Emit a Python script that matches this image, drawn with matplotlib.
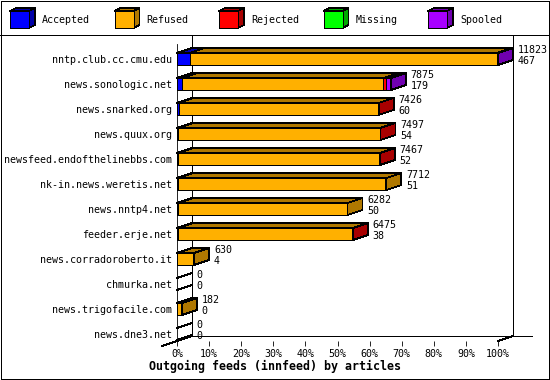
import matplotlib
matplotlib.use("Agg")
import matplotlib.pyplot as plt
from matplotlib.patches import Polygon, Rectangle
from matplotlib.lines import Line2D

# feeds and article counts per outcome
feeds = ["nntp.club.cc.cmu.edu", "news.sonologic.net", "news.snarked.org",
         "news.quux.org", "newsfeed.endofthelinebbs.com", "nk-in.news.weretis.net",
         "news.nntp4.net", "feeder.erje.net", "news.corradoroberto.it",
         "chmurka.net", "news.trigofacile.com", "news.dne3.net"]
accepted = [467, 179, 60, 54, 52, 51, 50, 38, 4, 0, 0, 0]
refused = [11316, 7426, 7356, 7433, 7405, 7661, 6232, 6427, 626, 0, 182, 0]
rejected = [0, 100, 10, 10, 10, 0, 0, 10, 0, 0, 0, 0]
missing = [0, 0, 0, 0, 0, 0, 0, 0, 0, 0, 0, 0]
spooled = [40, 170, 0, 0, 0, 0, 0, 0, 0, 0, 0, 0]

names = ["Accepted", "Refused", "Rejected", "Missing", "Spooled"]
light = ["#0000ff", "#ffb000", "#ff0000", "#00ff00", "#a800ff"]
dark = ["#0000a8", "#b07800", "#a80000", "#00a800", "#7000b0"]
ticks = list(range(0, 101, 10))
title = "Outgoing feeds (innfeed) by articles"

plt.rcParams['font.family'] = ['DejaVu Sans Mono']
LW = 0.6
FS = 7.2

fig = plt.figure(figsize=(5.5, 3.8), dpi=100)

# frame, legend strip and title drawn in pixel space
lax = fig.add_axes([0, 0, 1, 1])
lax.set_xlim(0, 550)
lax.set_ylim(380, 0)
lax.axis("off")
lax.add_patch(Rectangle((0.5, 0.5), 548.5, 378.5, fill=False, lw=LW, ec="black", antialiased=False))
lax.add_line(Line2D([0, 550], [35, 35], color="black", lw=LW, antialiased=False))
for k, name in enumerate(names):
    x0 = 10 + 104.5 * k
    lax.add_patch(Polygon([(x0, 11), (x0 + 6, 8), (x0 + 25, 8), (x0 + 19, 11)],
                          fc=dark[k], ec="black", lw=LW, antialiased=False))
    lax.add_patch(Polygon([(x0 + 19, 11), (x0 + 25, 8), (x0 + 25, 25), (x0 + 19, 28)],
                          fc=dark[k], ec="black", lw=LW, antialiased=False))
    lax.add_patch(Rectangle((x0, 11), 19, 17, fc=light[k], ec="black", lw=LW, antialiased=False))
    lax.text(x0 + 32, 20, name, va="center", ha="left", fontsize=FS)
lax.text(275, 366.5, title, ha="center", va="center", fontsize=8.4, fontweight="bold")

# main chart
ax = fig.add_axes([177 / 550, (380 - 341) / 380, 321 / 550, 297 / 380])
ax.set_facecolor("none")
ax.set_xlim(0, 100)
ax.set_ylim(11.28, -0.6)
DX = 15 / 3.21   # depth in percent units
DY = 0.2         # depth in category units
H = 0.24

segs = [accepted, refused, rejected, missing, spooled]
totals = [sum(s[i] for s in segs) for i in range(len(feeds))]
top = max(totals)

# back wall
wall = dict(color="black", lw=LW, clip_on=False, antialiased=False, zorder=1)
ax.plot([DX, DX], [11.28 - DY, -0.96], **wall)
ax.plot([100 + DX, 100 + DX], [11.28 - DY, -0.96], **wall)
ax.plot([DX, 100 + DX + 5.9], [11.28 - DY, 11.28 - DY], **wall)
ax.plot([-DX, DX], [11.28 + DY, 11.28 - DY], **wall)
ax.plot([100, 100 + DX], [11.28, 11.28 - DY], **wall)

for i in range(len(feeds)):
    left = 0.0
    last = None
    for k in range(5):
        v = segs[k][i] / top * 100
        if v <= 0:
            continue
        ax.add_patch(Polygon([(left, i - H), (left + v, i - H), (left + v + DX, i - H - DY), (left + DX, i - H - DY)],
                             fc=dark[k], ec="black", lw=LW, clip_on=False, antialiased=False, zorder=3))
        ax.add_patch(Rectangle((left, i - H), v, 2 * H, fc=light[k], ec="black", lw=LW,
                               clip_on=False, antialiased=False, zorder=3))
        left += v
        last = k
    side = [(left, i - H), (left + DX, i - H - DY), (left + DX, i + H - DY), (left, i + H)]
    if last is None:
        ax.plot([0, DX], [i - H, i - H - DY], **wall)
        ax.plot([0, DX], [i + H, i + H - DY], **wall)
    else:
        ax.add_patch(Polygon(side, fc=dark[last], ec="black", lw=LW, clip_on=False,
                             antialiased=False, zorder=3))
    ax.text(left + DX + 1.5, i - 0.36, str(totals[i]), va="center", ha="left", fontsize=FS, clip_on=False)
    ax.text(left + DX + 1.5, i + 0.07, str(accepted[i]), va="center", ha="left", fontsize=FS, clip_on=False)

ax.set_xticks(ticks)
ax.set_xticklabels([f"{t}%" for t in ticks])
ax.set_yticks(range(len(feeds)))
ax.set_yticklabels(feeds)
ax.tick_params(axis="x", length=3.3, width=LW, pad=2.5, labelsize=FS)
ax.tick_params(axis="y", length=0, pad=3.6, labelsize=FS)
for s in ["top", "right", "bottom"]:
    ax.spines[s].set_visible(False)
ax.spines["left"].set_linewidth(LW)

fig.savefig("out.png", dpi=100)
